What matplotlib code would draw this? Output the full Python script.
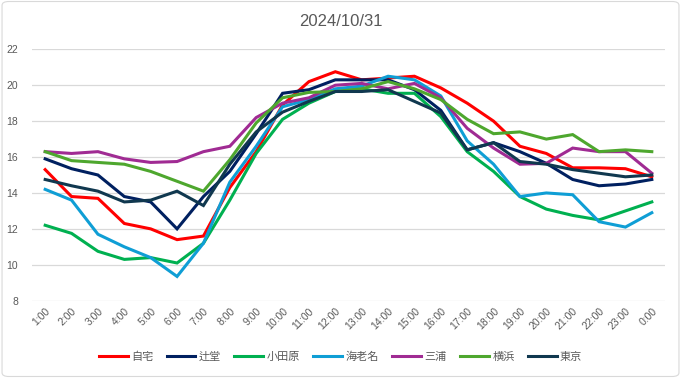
import matplotlib
matplotlib.use("Agg")
import matplotlib.pyplot as plt
from matplotlib.patches import FancyBboxPatch

plt.rcParams['font.family'] = ['Liberation Sans', 'Noto Sans CJK JP', 'DejaVu Sans']

hours = ["1:00", "2:00", "3:00", "4:00", "5:00", "6:00", "7:00", "8:00", "9:00", "10:00",
         "11:00", "12:00", "13:00", "14:00", "15:00", "16:00", "17:00", "18:00", "19:00",
         "20:00", "21:00", "22:00", "23:00", "0:00"]

jitaku   = [15.3, 13.8, 13.7, 12.3, 12.0, 11.4, 11.6, 14.3, 16.3, 18.9, 20.2, 20.75, 20.3, 20.4, 20.5, 19.85, 19.0, 18.0, 16.6, 16.2, 15.4, 15.4, 15.35, 14.9]
tsujido  = [15.9, 15.35, 15.0, 13.8, 13.5, 12.0, 13.8, 15.2, 17.3, 19.55, 19.75, 20.3, 20.3, 20.3, 19.75, 18.6, 16.4, 16.8, 16.3, 15.65, 14.75, 14.4, 14.5, 14.75]
odawara  = [12.2, 11.75, 10.75, 10.3, 10.4, 10.1, 11.2, 13.6, 16.2, 18.1, 19.0, 19.65, 19.8, 19.55, 19.55, 18.25, 16.3, 15.2, 13.8, 13.1, 12.75, 12.5, 13.0, 13.5]
ebina    = [14.2, 13.6, 11.7, 11.0, 10.4, 9.35, 11.2, 14.6, 16.6, 18.8, 19.2, 19.8, 19.95, 20.5, 20.3, 19.4, 16.9, 15.6, 13.8, 14.0, 13.9, 12.4, 12.1, 12.9]
miura    = [16.3, 16.2, 16.3, 15.9, 15.7, 15.75, 16.3, 16.6, 18.2, 19.0, 19.3, 20.0, 20.1, 19.8, 20.1, 19.3, 17.6, 16.5, 15.6, 15.65, 16.5, 16.3, 16.3, 15.1]
yokohama = [16.3, 15.8, 15.7, 15.6, 15.2, 14.65, 14.1, 15.85, 17.9, 19.3, 19.6, 19.65, 19.8, 20.2, 19.8, 19.2, 18.1, 17.3, 17.4, 17.0, 17.25, 16.3, 16.4, 16.3]
tokyo    = [14.75, 14.4, 14.1, 13.5, 13.6, 14.1, 13.3, 15.6, 17.4, 18.5, 19.1, 19.65, 19.65, 19.75, 19.1, 18.45, 16.4, 16.8, 15.75, 15.6, 15.3, 15.1, 14.9, 15.0]

series_names = ["自宅", "辻堂", "小田原", "海老名", "三浦", "横浜", "東京"]
series_data = [jitaku, tsujido, odawara, ebina, miura, yokohama, tokyo]
colors = ["#ff0000", "#002060", "#00b050", "#0f9ed5", "#a02b93", "#4ea72e", "#10384f"]

fig = plt.figure(figsize=(6.81, 3.78), dpi=100)
ax = fig.add_axes([32/681, 1 - 300.7/378, (665-32)/681, (300.7-49.3)/378])

x = list(range(len(hours)))
for name, data, c in zip(series_names, series_data, colors):
    ax.plot(x, data, color=c, lw=2.2, label=name, solid_joinstyle='miter')

ax.set_xlim(-0.5, len(hours) - 0.5)
ax.set_ylim(8, 22)
ax.set_yticks(range(8, 23, 2))
ax.set_xticks(x)
ax.set_xticklabels(hours, rotation=45, ha='right', rotation_mode='anchor')
ax.tick_params(axis='both', length=0, labelsize=7.5, colors='#595959')
ax.tick_params(axis='x', pad=4)
ax.tick_params(axis='y', pad=10)
ax.grid(axis='y', color='#d9d9d9', lw=0.9)
ax.set_axisbelow(True)
for s in ax.spines.values():
    s.set_visible(False)

fig.text(0.5, 1 - 22/378, "2024/10/31", ha='center', va='center', fontsize=12, color='#595959')

leg = fig.legend(loc='center', bbox_to_anchor=(0.5, 1 - 357/378), ncol=7, frameon=False,
                 fontsize=8, handlelength=2.6, columnspacing=1.2, handletextpad=0.3)
for t in leg.get_texts():
    t.set_color('#595959')

border = FancyBboxPatch((0.003, 0.004), 0.994, 0.992, boxstyle="round,pad=0,rounding_size=0.01",
                        transform=fig.transFigure, fill=False, edgecolor='#d9d9d9', lw=0.8)
fig.patches.append(border)

fig.savefig("out.png", dpi=100)
